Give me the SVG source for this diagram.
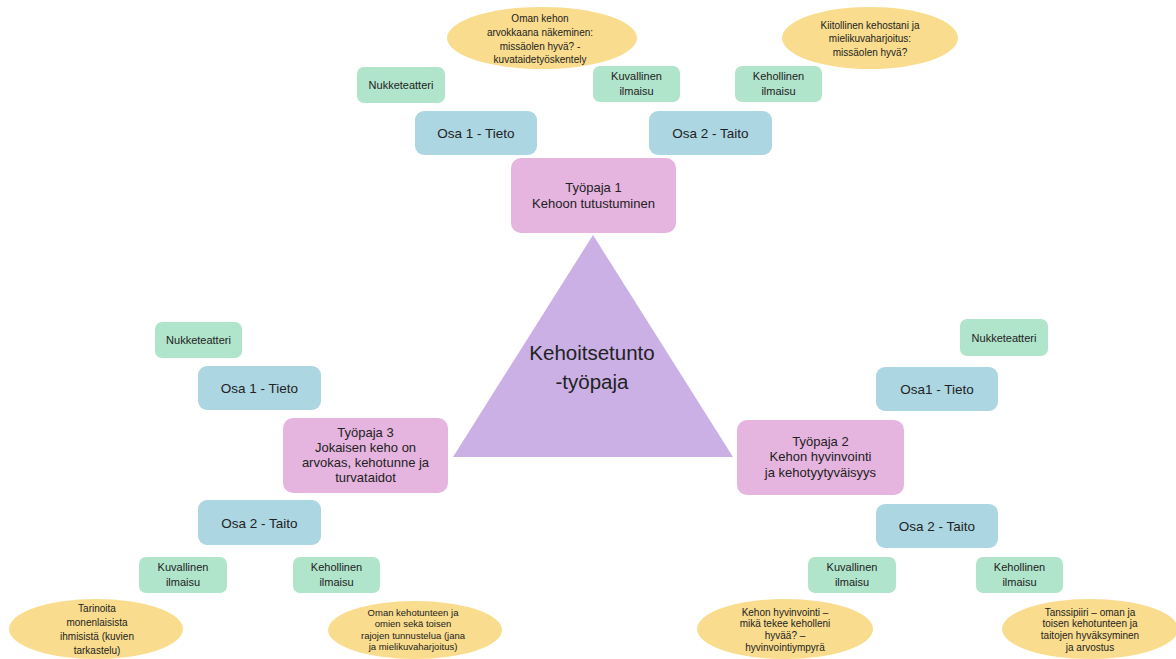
<svg xmlns="http://www.w3.org/2000/svg" width="1176" height="659" viewBox="0 0 1176 659">
<style>
text{font-family:"Liberation Sans",Arial,sans-serif;fill:#222;text-anchor:middle}
.g{fill:#b0e4cb}
.b{fill:#add6e3}
.p{fill:#e5b4df}
.y{fill:#f9dc8d}
.tri{fill:#cbb0e6}
.gt{font-size:11px}
.bt{font-size:13.5px}
.pt{font-size:13px}
.yt{font-size:10px}
.ys{font-size:9.5px}
.ct{font-size:20.5px}
</style>
<rect width="1176" height="659" fill="#ffffff"/>
<g id="connectors"/>

<g id="center">
<polygon class="tri" points="593,235 453,457 733,457"/>
<text class="ct" x="592" y="360">Kehoitsetunto</text>
<text class="ct" x="592" y="389">-työpaja</text>
</g>

<!-- Top: Työpaja 1 -->
<g id="tp1">
<rect class="p" x="511" y="158" width="165" height="75" rx="10"/>
<text class="pt" x="593.5" y="191.5">Työpaja 1</text>
<text class="pt" x="593.5" y="207.5">Kehoon tutustuminen</text>
</g>
<g id="tp1-osa1">
<rect class="b" x="415" y="111" width="122" height="44" rx="9"/>
<text class="bt" x="476" y="138">Osa 1 - Tieto</text>
</g>
<g id="tp1-osa2">
<rect class="b" x="649" y="111" width="123" height="44" rx="9"/>
<text class="bt" x="710.5" y="138">Osa 2 - Taito</text>
</g>
<g id="tp1-nukke">
<rect class="g" x="357" y="67" width="88" height="36" rx="7"/>
<text class="gt" x="401" y="89">Nukketeatteri</text>
</g>
<g id="tp1-kuva">
<rect class="g" x="593" y="66" width="87" height="36" rx="7"/>
<text class="gt" x="636.5" y="80">Kuvallinen</text>
<text class="gt" x="636.5" y="95">ilmaisu</text>
</g>
<g id="tp1-keho">
<rect class="g" x="735" y="66" width="87" height="36" rx="7"/>
<text class="gt" x="778.5" y="80">Kehollinen</text>
<text class="gt" x="778.5" y="95">ilmaisu</text>
</g>
<g id="tp1-oval1">
<ellipse class="y" cx="542" cy="38" rx="95" ry="31"/>
<text class="yt" x="540" y="22">Oman kehon</text>
<text class="yt" x="540" y="36">arvokkaana näkeminen:</text>
<text class="yt" x="540" y="50">missäolen hyvä? -</text>
<text class="yt" x="540" y="63">kuvataidetyöskentely</text>
</g>
<g id="tp1-oval2">
<ellipse class="y" cx="870" cy="38" rx="88" ry="31"/>
<text class="yt" x="870" y="28.5">Kiitollinen kehostani ja</text>
<text class="yt" x="870" y="42">mielikuvaharjoitus:</text>
<text class="yt" x="870" y="55.5">missäolen hyvä?</text>
</g>

<!-- Left: Työpaja 3 -->
<g id="tp3">
<rect class="p" x="283" y="418" width="165" height="75" rx="10"/>
<text class="pt" x="365.5" y="436.5">Työpaja 3</text>
<text class="pt" x="365.5" y="451.5">Jokaisen keho on</text>
<text class="pt" x="365.5" y="466.5">arvokas, kehotunne ja</text>
<text class="pt" x="365.5" y="481.5">turvataidot</text>
</g>
<g id="tp3-osa1">
<rect class="b" x="198" y="366" width="123" height="44" rx="9"/>
<text class="bt" x="259.5" y="393">Osa 1 - Tieto</text>
</g>
<g id="tp3-osa2">
<rect class="b" x="198" y="500" width="123" height="45" rx="9"/>
<text class="bt" x="259.5" y="527.5">Osa 2 - Taito</text>
</g>
<g id="tp3-nukke">
<rect class="g" x="155" y="322" width="87" height="36" rx="7"/>
<text class="gt" x="198.5" y="344">Nukketeatteri</text>
</g>
<g id="tp3-kuva">
<rect class="g" x="139" y="557" width="88" height="36" rx="7"/>
<text class="gt" x="183" y="571">Kuvallinen</text>
<text class="gt" x="183" y="586">ilmaisu</text>
</g>
<g id="tp3-keho">
<rect class="g" x="293" y="557" width="87" height="36" rx="7"/>
<text class="gt" x="336.5" y="571">Kehollinen</text>
<text class="gt" x="336.5" y="586">ilmaisu</text>
</g>
<g id="tp3-oval1">
<ellipse class="y" cx="96" cy="629" rx="87" ry="30"/>
<text class="yt" x="97" y="612">Tarinoita</text>
<text class="yt" x="97" y="626">monenlaisista</text>
<text class="yt" x="97" y="640">ihmisistä (kuvien</text>
<text class="yt" x="97" y="654">tarkastelu)</text>
</g>
<g id="tp3-oval2">
<ellipse class="y" cx="415" cy="630" rx="87" ry="29"/>
<text class="ys" x="413" y="615.5">Oman kehotunteen ja</text>
<text class="ys" x="413" y="627">omien sekä toisen</text>
<text class="ys" x="413" y="638.5">rajojen tunnustelua (jana</text>
<text class="ys" x="413" y="650">ja mielikuvaharjoitus)</text>
</g>

<!-- Right: Työpaja 2 -->
<g id="tp2">
<rect class="p" x="737" y="420" width="167" height="75" rx="10"/>
<text class="pt" x="820.5" y="446">Työpaja 2</text>
<text class="pt" x="820.5" y="461">Kehon hyvinvointi</text>
<text class="pt" x="820.5" y="477">ja kehotyytyväisyys</text>
</g>
<g id="tp2-osa1">
<rect class="b" x="876" y="367" width="122" height="44" rx="9"/>
<text class="bt" x="937" y="394">Osa1 - Tieto</text>
</g>
<g id="tp2-osa2">
<rect class="b" x="876" y="504" width="122" height="44" rx="9"/>
<text class="bt" x="937" y="531">Osa 2 - Taito</text>
</g>
<g id="tp2-nukke">
<rect class="g" x="960" y="319" width="88" height="37" rx="7"/>
<text class="gt" x="1004" y="341.5">Nukketeatteri</text>
</g>
<g id="tp2-kuva">
<rect class="g" x="808" y="557" width="88" height="36" rx="7"/>
<text class="gt" x="852" y="571">Kuvallinen</text>
<text class="gt" x="852" y="586">ilmaisu</text>
</g>
<g id="tp2-keho">
<rect class="g" x="976" y="557" width="87" height="36" rx="7"/>
<text class="gt" x="1019.5" y="571">Kehollinen</text>
<text class="gt" x="1019.5" y="586">ilmaisu</text>
</g>
<g id="tp2-oval1">
<ellipse class="y" cx="785" cy="629" rx="88" ry="30"/>
<text class="yt" x="785" y="615.5">Kehon hyvinvointi –</text>
<text class="yt" x="785" y="627">mikä tekee keholleni</text>
<text class="yt" x="785" y="638.5">hyvää? –</text>
<text class="yt" x="785" y="650.5">hyvinvointiympyrä</text>
</g>
<g id="tp2-oval2">
<ellipse class="y" cx="1090" cy="629" rx="88" ry="30"/>
<text class="yt" x="1090" y="615.5">Tanssipiiri – oman ja</text>
<text class="yt" x="1090" y="627">toisen kehotunteen ja</text>
<text class="yt" x="1090" y="638.5">taitojen hyväksyminen</text>
<text class="yt" x="1090" y="650.5">ja arvostus</text>
</g>
</svg>
